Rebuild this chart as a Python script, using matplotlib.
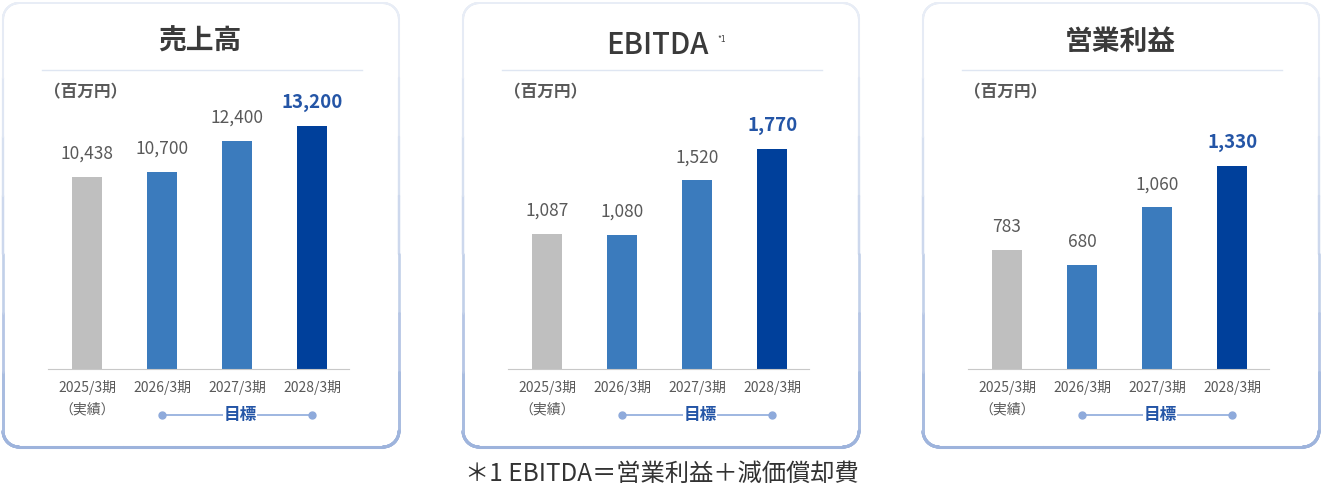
import numpy as np
import matplotlib
matplotlib.use("Agg")
import matplotlib.pyplot as plt
from matplotlib.collections import LineCollection
from matplotlib.transforms import blended_transform_factory

plt.rcParams['font.family'] = ['Noto Sans CJK JP', 'DejaVu Sans']

# data (百万円)
periods = ["2025/3期", "2026/3期", "2027/3期", "2028/3期"]
titles = ["売上高", "EBITDA", "営業利益"]
sales = [10438, 10700, 12400, 13200]
ebitda = [1087, 1080, 1520, 1770]
op_income = [783, 680, 1060, 1330]
series = [sales, ebitda, op_income]

# layout (pixels) and styles
W, H = 1322, 486
panel_x = [0, 460, 920]
y_tops = [14610, 2165, 1765]
bar_colors = ["#bfbfbf", "#3b7bbd", "#3b7bbd", "#00409b"]
gray_txt = "#595959"
blue_txt = "#2455a6"


def fx(x):
    return x / W


def fy(y):
    return 1 - y / H


def rounded_box(x0, y0, x1, y1, r, n=12):
    # perimeter points of a rounded rectangle, in pixels
    pts = []
    corners = [(x1 - r, y0 + r, -90, 0), (x1 - r, y1 - r, 0, 90),
               (x0 + r, y1 - r, 90, 180), (x0 + r, y0 + r, 180, 270)]
    for cx, cy, a0, a1 in corners:
        for a in np.linspace(np.radians(a0), np.radians(a1), n):
            pts.append((cx + r * np.cos(a), cy + r * np.sin(a)))
    pts.append(pts[0])
    return np.array(pts)


fig = plt.figure(figsize=(W / 100, H / 100), dpi=100)
fig.patch.set_facecolor("white")

top_c = np.array(matplotlib.colors.to_rgb("#e8edf6"))
bot_c = np.array(matplotlib.colors.to_rgb("#9db3dc"))

for k, vals in enumerate(series):
    ox = panel_x[k]

    # panel border, light at top and bluer at the bottom
    pts = rounded_box(ox + 3, 3, ox + 399, 447, 16)
    segs, cols, widths = [], [], []
    for i in range(len(pts) - 1):
        a, b = pts[i], pts[i + 1]
        for t in np.linspace(0, 1, 8)[:-1]:
            p = a + (b - a) * t
            q = a + (b - a) * (t + 1 / 7)
            segs.append([(fx(p[0]), fy(p[1])), (fx(q[0]), fy(q[1]))])
            m = ((p[1] + q[1]) / 2 - 3) / 444
            cols.append(top_c + (bot_c - top_c) * m ** 1.5)
            widths.append(1.4 + 0.8 * m)
    lc = LineCollection(segs, colors=cols, linewidths=widths,
                        transform=fig.transFigure, capstyle="round")
    fig.add_artist(lc)

    # title
    if k == 1:
        fig.text(fx(ox + 197), fy(45), titles[k], ha="center", va="center",
                 fontsize=21, fontweight="medium", color="#3a3a3a")
        fig.text(fx(ox + 257), fy(40), "*1", ha="left", va="center",
                 fontsize=6, color="#404040")
    else:
        fig.text(fx(ox + 200), fy(42), titles[k], ha="center", va="center",
                 fontsize=20, fontweight="bold", color="#3a3a3a")

    # separator under the title
    fig.add_artist(plt.Line2D([fx(ox + 42), fx(ox + 362)], [fy(70), fy(70)],
                              color="#dfe6f2", lw=1, transform=fig.transFigure))

    fig.text(fx(ox + 44), fy(92), "（百万円）", ha="left", va="center",
             fontsize=12, fontweight="bold", color=gray_txt)

    ax = fig.add_axes([fx(ox + 48), fy(369), (349 - 48) / W, 269 / H])
    x = np.arange(len(periods))
    ax.bar(x, vals, width=0.4, color=bar_colors)
    ax.set_xlim(-0.52, 3.49)
    ax.set_ylim(0, y_tops[k])
    for s in ["top", "left", "right"]:
        ax.spines[s].set_visible(False)
    ax.spines["bottom"].set_color("#c8c8c8")
    ax.set_yticks([])
    ax.set_xticks(x, periods)
    ax.tick_params(axis="x", length=0, pad=8, labelsize=10, labelcolor=gray_txt)

    for i, v in enumerate(vals):
        last = i == len(vals) - 1
        ax.annotate(f"{v:,}", (x[i], v), xytext=(0, 10), textcoords="offset points",
                    ha="center", va="bottom",
                    fontsize=13.5 if last else 12.5,
                    fontweight="bold" if last else "normal",
                    color=blue_txt if last else gray_txt)

    tr = blended_transform_factory(ax.transData, ax.transAxes)
    ax.text(0, -0.152, "（実績）", transform=tr, ha="center", va="center",
            fontsize=10, color=gray_txt)
    ax.plot([1, 3], [-0.171, -0.171], transform=tr, clip_on=False,
            color="#8eaadb", lw=1.2, marker="o", markersize=5)
    ax.text(2.04, -0.171, "目標", transform=tr, ha="center", va="center",
            fontsize=12, fontweight="bold", color=blue_txt,
            bbox=dict(facecolor="white", edgecolor="none", pad=0.5))

fig.text(fx(662), fy(474), "＊1 EBITDA＝営業利益＋減価償却費", ha="center",
         va="center", fontsize=17.5, color="#333333")

fig.savefig("out.png", dpi=100, facecolor="white")
